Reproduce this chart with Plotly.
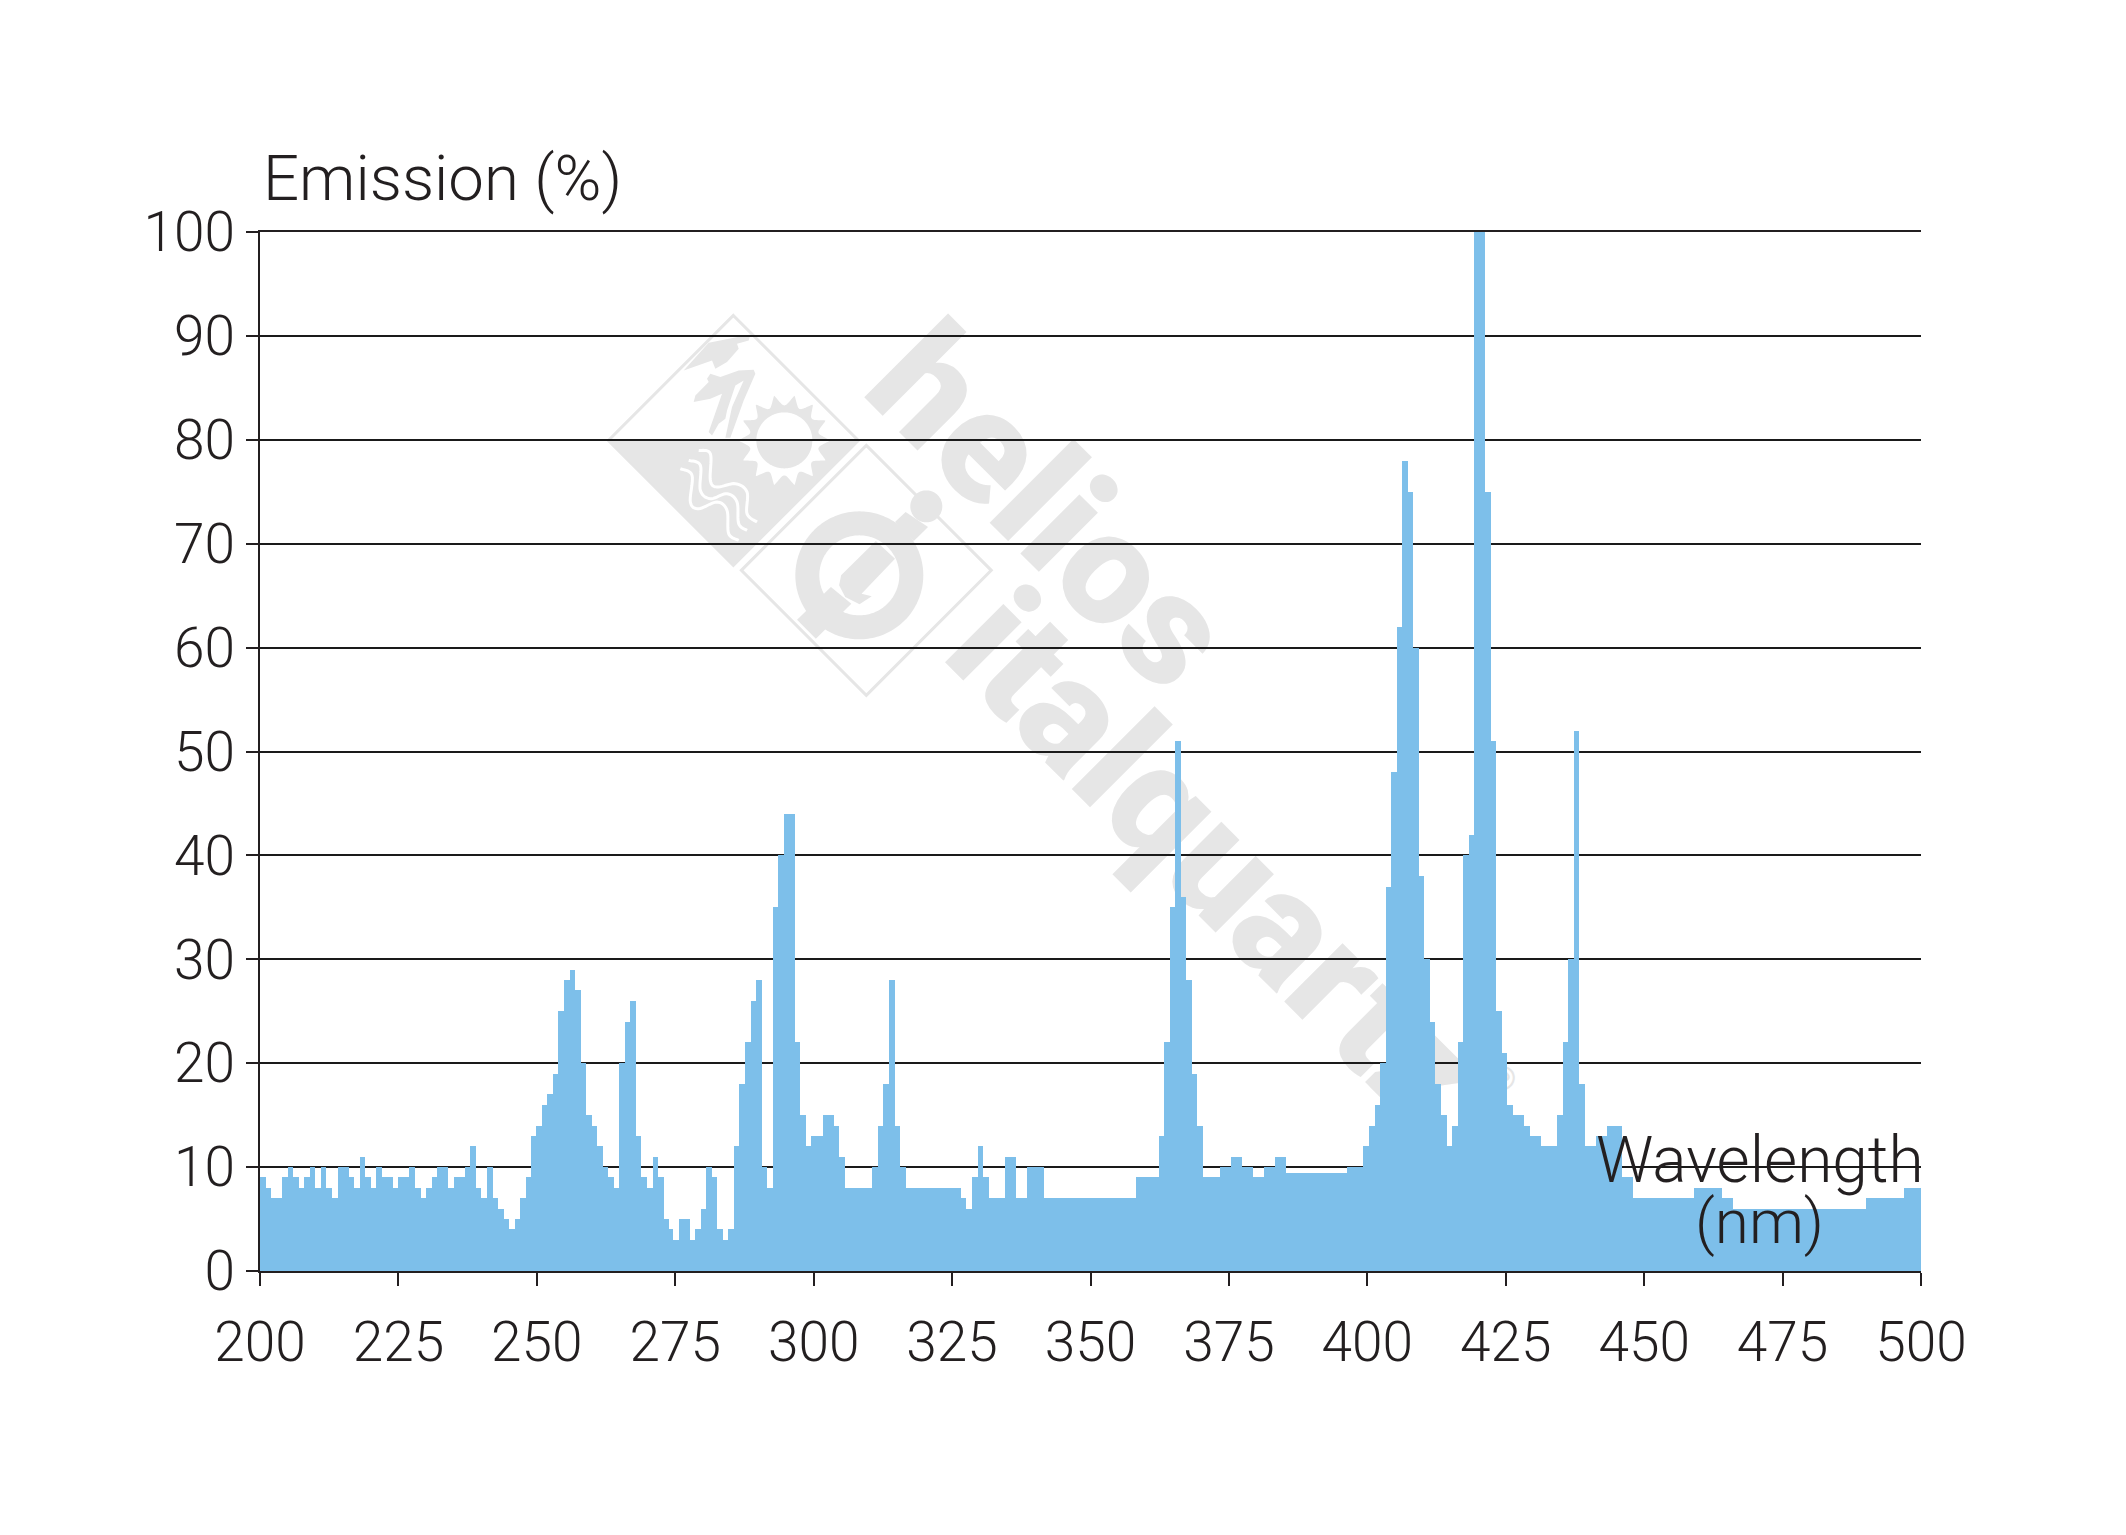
import math
import plotly.graph_objects as go

# Emission value per 1 nm bin, 200..499 nm
emission = [
 9,8,7,7,9,10,9,8,9,10,8,10,8,7,10,10,9,8,11,9,8,10,9,9,8,
 9,9,10,8,7,8,9,10,10,8,9,9,10,12,8,7,10,7,6,5,4,5,7,9,13,
 14,16,17,19,25,28,29,27,20,15,14,12,10,9,8,20,24,26,13,9,8,11,9,5,4,
 3,5,5,3,4,6,10,9,4,3,4,12,18,22,26,28,10,8,35,40,44,44,22,15,12,
 13,13,15,15,14,11,8,8,8,8,8,10,14,18,28,14,10,8,8,8,8,8,8,8,8,
 8,8,7,6,9,12,9,7,7,7,11,11,7,7,10,10,10,7,7,7,7,7,7,7,7,
 7,7,7,7,7,7,7,7,9,9,9,9,13,22,35,51,36,28,19,14,9,9,9,10,10,
 11,11,10,10,9,9,10,10,11,11,9.4,9.4,9.4,9.4,9.4,9.4,9.4,9.4,9.4,9.4,9.4,10,10,10,12,
 14,16,20,37,48,62,78,75,60,38,30,24,18,15,12,14,22,40,42,100,100,75,51,25,21,
 16,15,15,14,13,13,12,12,12,15,22,30,52,18,12,12,13,13,14,14,14,9,9,7,7,
 7,7,7,7,7,7,7,7,7,8,8,8,8,8,7,7,6,6,6,6,6,6,6,6,6,
 6,6,6,6,6,6,6,6,6,6,6,6,6,6,6,7,7,7,7,7,7,7,8,8,8,
]
# The source bins sit slightly off the whole nm in places: (first bin, shift in nm)
bin_shift = [(0, 0.0), (50, -0.1), (75, -0.4), (158, 0.3), (246, 0.0)]
x_ticks = [200, 225, 250, 275, 300, 325, 350, 375, 400, 425, 450, 475, 500]
y_ticks = [0, 10, 20, 30, 40, 50, 60, 70, 80, 90, 100]
y_title = "Emission (%)"
x_title_1 = "Wavelength"
x_title_2 = "(nm)"

def shift_of(i):
    return [s for first, s in bin_shift if first <= i][-1]

bin_start = [200 + i + shift_of(i) for i in range(len(emission))]
bin_width = [b - a for a, b in zip(bin_start, bin_start[1:] + [500])]

W, H = 2126, 1535
L, R, T, B = 251.5, 1913, 223.5, 1263
INK = "#231f20"
BAR = "#7dbfea"
MARK = "#e6e6e6"
FONT = "Roboto"

def px(x): return (x - L) / (R - L)
def py(y): return (B - y) / (B - T)

def poly(points, closed=True):
    d = "M " + " L ".join(f"{px(x)} {py(y)}" for x, y in points)
    return d + (" Z" if closed else "")

def deco(points, fill=MARK, line=None, closed=True):
    return dict(type="path", xref="paper", yref="paper", layer="below", path=poly(points, closed),
                fillcolor=fill if closed else "rgba(0,0,0,0)",
                line=line or dict(width=0))

def z8(p): return [(602 + x / 3, 302 + y / 3) for x, y in p]
def z6(p): return [(592 + x / 2.45, 292 + y / 3) for x, y in p]

def smooth(p, n=10):
    out = []
    q = [p[0]] + list(p) + [p[-1]]
    for i in range(1, len(q) - 2):
        for k in range(n):
            t = k / n
            out.append(tuple(0.5 * (2*q[i][a] + (q[i+1][a]-q[i-1][a])*t
                     + (2*q[i-1][a]-5*q[i][a]+4*q[i+1][a]-q[i+2][a])*t*t
                     + (3*q[i][a]-q[i-1][a]-3*q[i+1][a]+q[i+2][a])*t**3) for a in (0, 1)))
    out.append(p[-1])
    return out

def arc(cx, cy, rf, a0, a1, n=180):
    return [(cx + rf(a0 + (a1-a0)*i/n) * math.cos(a0 + (a1-a0)*i/n),
             cy + rf(a0 + (a1-a0)*i/n) * math.sin(a0 + (a1-a0)*i/n)) for i in range(n + 1)]

SUN = (776, 432)
gear = lambda a: 46 - 11 * abs(math.sin(7 * a))
core = lambda a: 28
ring = lambda a: 64
hole = lambda a: 40
DOT = lambda a: 16
C1, C2 = (725, 432), (858, 562)
R1, R2 = 125, 125

def diamond(c, r): return [(c[0], c[1]-r), (c[0]+r, c[1]), (c[0], c[1]+r), (c[0]-r, c[1])]
edge = dict(color=MARK, width=3)

mountain_a = [(220,180),(295,97),(420,72),(415,90),(380,100),(385,115),(350,155),(315,175),(305,150)]
mountain_b = [(290,205),(300,190),(330,200),(385,180),(430,178),(435,190),(400,270),(360,382),(345,382),
              (365,290),(400,210),(375,225),(350,300),(345,325),(325,340),(305,375),(295,365),(335,250),
              (300,265),(250,275),(255,255),(295,215)]
waves = [
    [(265,420),(300,430),(300,510),(320,530),(375,520),(410,545),(410,610),(440,635)],
    [(235,450),(270,465),(270,540),(300,565),(350,550),(380,575),(385,640),(410,660)],
    [(210,475),(245,495),(240,575),(265,595),(320,575),(350,600),(355,670),(385,690)],
]
stem_a = [(482,958),(528,1015),(615,910),(565,860)]
stem_b = [(722,665),(748,635),(803,680),(768,722)]
inner = [(590,825),(675,722),(722,775),(640,880),(665,888),(635,912),(600,890),(585,855)]

shapes = [
    deco(diamond(C1, R1), fill="rgba(0,0,0,0)", line=edge),
    deco([(C1[0]-R1, C1[1]), (C1[0]+R1, C1[1]), (C1[0], C1[1]+R1)]),
    deco(z8(mountain_a)),
    deco(z8(mountain_b)),
    deco(arc(*SUN, gear, math.pi, 2*math.pi)),
    deco(arc(*SUN, gear, 0, math.pi), fill="white"),
    deco(arc(*SUN, core, math.pi, 2*math.pi), fill="white"),
    deco(arc(*SUN, core, 0, math.pi)),
]
shapes += [deco(smooth(z8(w)), closed=False, line=dict(color="white", width=3)) for w in waves]
shapes += [
    deco(diamond(C2, R2), fill="rgba(0,0,0,0)", line=edge),
    deco(arc(C2[0]-7, C2[1]+5, ring, 0, 2*math.pi)),
    deco(arc(C2[0]-7, C2[1]+5, hole, 0, 2*math.pi), fill="white"),
    deco(z6(stem_a)),
    deco(z6(stem_b)),
    deco(z6(inner)),
    deco(arc(918, 498, DOT, 0, 2*math.pi)),
]

def word(text, cx, cy, size):
    return dict(type="rect", xref="paper", yref="paper", layer="below",
                x0=px(cx-20), x1=px(cx+20), y0=py(cy+20), y1=py(cy-20),
                line=dict(width=0), fillcolor="rgba(0,0,0,0)",
                label=dict(text=text, textangle=45, textposition="middle center",
                           font=dict(family="Roboto", size=size, color=MARK, weight=900)))

shapes += [word("helios", 1050, 491, 158), word("italquartz", 1216, 842, 156), word("®", 1496, 1069, 34)]

fig = go.Figure(go.Bar(
    x=bin_start, y=emission, width=bin_width, offset=0,
    marker=dict(color=BAR, line=dict(width=0)),
))
fig.update_layout(
    width=W, height=H, autosize=False, showlegend=False,
    margin=dict(l=L, r=W-R, t=T, b=H-B, pad=0),
    paper_bgcolor="white", plot_bgcolor="white", bargap=0,
    font=dict(family=FONT, color=INK, size=55, weight=300),
    shapes=shapes,
    annotations=[
        dict(text=y_title, xref="paper", yref="paper", x=px(253), y=py(169.5),
             xanchor="left", yanchor="middle", showarrow=False, font=dict(size=63.5, weight=300)),
        dict(text=x_title_1, xref="paper", yref="paper", x=px(1752), y=py(1152),
             xanchor="center", yanchor="middle", showarrow=False, font=dict(size=64, weight=300)),
        dict(text=x_title_2, xref="paper", yref="paper", x=px(1751), y=py(1213),
             xanchor="center", yanchor="middle", showarrow=False, font=dict(size=62, weight=300)),
    ],
)
fig.update_xaxes(range=[200, 500], tickmode="array", tickvals=x_ticks, ticks="outside",
                 ticklen=13, tickwidth=2, tickcolor=INK, showgrid=False, zeroline=False,
                 showline=True, linecolor=INK, linewidth=2, mirror=True, ticklabelstandoff=9)
fig.update_yaxes(range=[0, 100], tickmode="array", tickvals=y_ticks, ticks="outside",
                 ticklen=12, tickwidth=2, tickcolor=INK, showgrid=True, gridcolor="#1a1a1a",
                 gridwidth=2, zeroline=False, showline=True, linecolor=INK, linewidth=2)
fig.write_html("out.html")
